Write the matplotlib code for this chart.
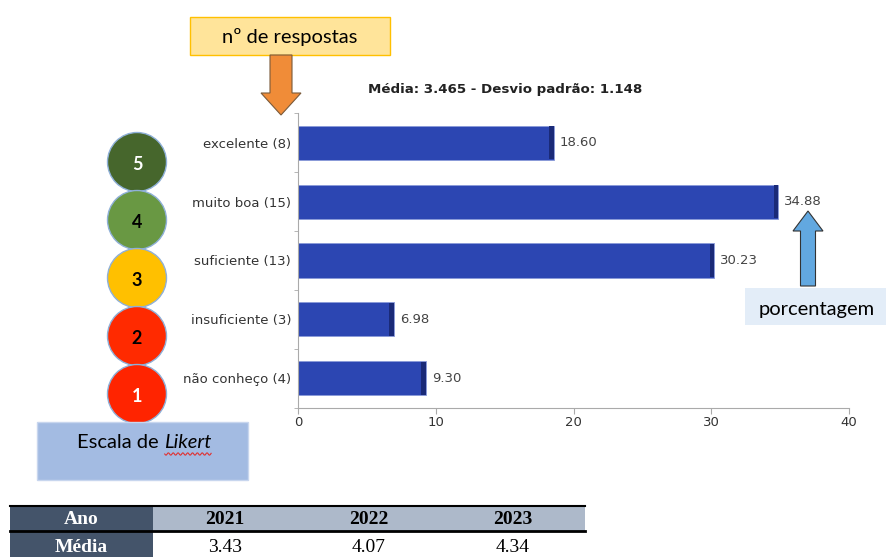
import numpy as np
import matplotlib
matplotlib.use("Agg")
import matplotlib.pyplot as plt
from matplotlib.patches import Rectangle, Circle, FancyArrow

# survey data
categories = ["excelente", "muito boa", "suficiente", "insuficiente", "não conheço"]
counts = [8, 15, 13, 3, 4]
percents = [18.60, 34.88, 30.23, 6.98, 9.30]
title = "Média: 3.465 - Desvio padrão: 1.148"

likert_levels = [5, 4, 3, 2, 1]
likert_colors = ["#46662c", "#699843", "#ffc000", "#ff2a00", "#ff2400"]
likert_text = ["white", "black", "black", "black", "white"]

years = ["2021", "2022", "2023"]
means = [3.43, 4.07, 4.34]

W, H = 887, 557
fig = plt.figure(figsize=(W / 100, H / 100), dpi=100)

# main bar chart
ax = fig.add_axes([298 / W, 1 - 407.5 / H, 551 / W, 294 / H])
ypos = np.arange(len(categories))
bars = ax.barh(ypos, percents, height=0.58, color="#2c46b2",
               edgecolor="#8a9ad8", linewidth=0.6)
ax.barh(ypos, [0.35] * len(percents), left=np.array(percents) - 0.35,
        height=0.56, color="#1a2a78", linewidth=0)
ax.bar_label(bars, labels=[f"{p:.2f}" for p in percents], padding=4,
             fontsize=9.5, color="#444444")
ax.set_yticks(ypos)
ax.set_yticklabels([f"{c} ({n})" for c, n in zip(categories, counts)],
                   fontsize=9.5, color="#333333")
ax.set_yticks(np.arange(-0.5, len(categories), 1), minor=True)
ax.tick_params(axis="y", which="major", length=0, pad=5)
ax.tick_params(axis="y", which="minor", length=3, color="#aaaaaa")
ax.set_xlim(0, 40)
ax.set_ylim(len(categories) - 0.5, -0.5)
ax.set_xticks([0, 10, 20, 30, 40])
ax.tick_params(axis="x", labelsize=9.5, labelcolor="#333333", length=4,
               color="#aaaaaa", pad=2)
for s in ["top", "right"]:
    ax.spines[s].set_visible(False)
for s in ["left", "bottom"]:
    ax.spines[s].set_color("#aaaaaa")
ax.set_title(title, fontsize=9.6, fontweight="bold", pad=15, x=0.376,
             color="#222222")

# overlay in pixel coordinates
ov = fig.add_axes([0, 0, 1, 1], zorder=5)
ov.set_xlim(0, W)
ov.set_ylim(H, 0)
ov.axis("off")
ov.patch.set_alpha(0)

box_font = "Lato"

# "nº de respostas" callout
ov.add_patch(Rectangle((190, 17), 200, 38, facecolor="#ffe49a",
                       edgecolor="#ffc000", linewidth=1))
ov.text(290, 37, "nº de respostas", ha="center", va="center",
        fontsize=14.5, family=box_font)
ov.add_patch(FancyArrow(281, 55, 0, 60, width=22, head_width=40,
                        head_length=22, length_includes_head=True,
                        facecolor="#f08c38", edgecolor="#7a5a3a", linewidth=0.8))

# "porcentagem" callout
ov.add_patch(Rectangle((745, 288), 150, 37, facecolor="#e3edf8",
                       edgecolor="none"))
ov.text(817, 310, "porcentagem", ha="center", va="center",
        fontsize=14.5, family=box_font)
ov.add_patch(FancyArrow(808, 286, 0, -75, width=15, head_width=30,
                        head_length=20, length_includes_head=True,
                        facecolor="#62a8e0", edgecolor="#333333", linewidth=0.8))

# Likert circles
for i, (lvl, col, tc) in enumerate(zip(likert_levels, likert_colors, likert_text)):
    cy = 162 + i * 58
    ov.add_patch(Circle((137, cy), 29.5, facecolor=col, edgecolor="#8fb0d8",
                        linewidth=1))
    ov.text(137, cy + 3, str(lvl), ha="center", va="center", fontsize=13,
            color=tc, family=box_font, fontweight="bold")

# Likert label box, "Likert" set in italics right after the plain part
ov.add_patch(Rectangle((37, 422), 211, 58, facecolor="#a3bbe2",
                       edgecolor="#c8d6ee", linewidth=1))
t1 = ov.text(77, 443, "Escala de ", ha="left", va="center", fontsize=14.5,
             family=box_font)
fig.canvas.draw()
bb = t1.get_window_extent()
x_end = ov.transData.inverted().transform((bb.x1, bb.y0))[0]
t2 = ov.text(x_end, 443, "Likert", ha="left", va="center", fontsize=14.5,
             family=box_font, style="italic")
bb2 = t2.get_window_extent()
x_end2 = ov.transData.inverted().transform((bb2.x1, bb2.y0))[0]
wx = np.linspace(x_end + 1, x_end2, 60)
ov.plot(wx, 454 + 1.2 * np.sin((wx - wx[0]) * 1.3), color="#e03030", lw=0.8)

# bottom table
col_x = [10, 153, 297, 440, 585]
row_y = [507, 531, 557]
cell_font = "Liberation Serif"
header = ["Ano"] + years
row2 = ["Média"] + [f"{m:.2f}" for m in means]
for r, (vals, top, bot) in enumerate(zip([header, row2], row_y[:-1], row_y[1:])):
    for c, v in enumerate(vals):
        x0, x1 = col_x[c], col_x[c + 1]
        if c == 0:
            fc, tc, fw = "#44546a", "white", "bold"
        elif r == 0:
            fc, tc, fw = "#adb9ca", "black", "bold"
        else:
            fc, tc, fw = "white", "black", "normal"
        ov.add_patch(Rectangle((x0, top), x1 - x0, bot - top, facecolor=fc,
                               edgecolor="none"))
        ov.text((x0 + x1) / 2, (top + bot) / 2 + 1 + (r * 3), v, ha="center",
                va="center", fontsize=14, color=tc, fontweight=fw,
                family=cell_font)
ov.plot([10, 585], [506, 506], color="black", lw=1.5)
ov.plot([10, 585], [531, 531], color="black", lw=2)

fig.savefig("out.png", dpi=100)
